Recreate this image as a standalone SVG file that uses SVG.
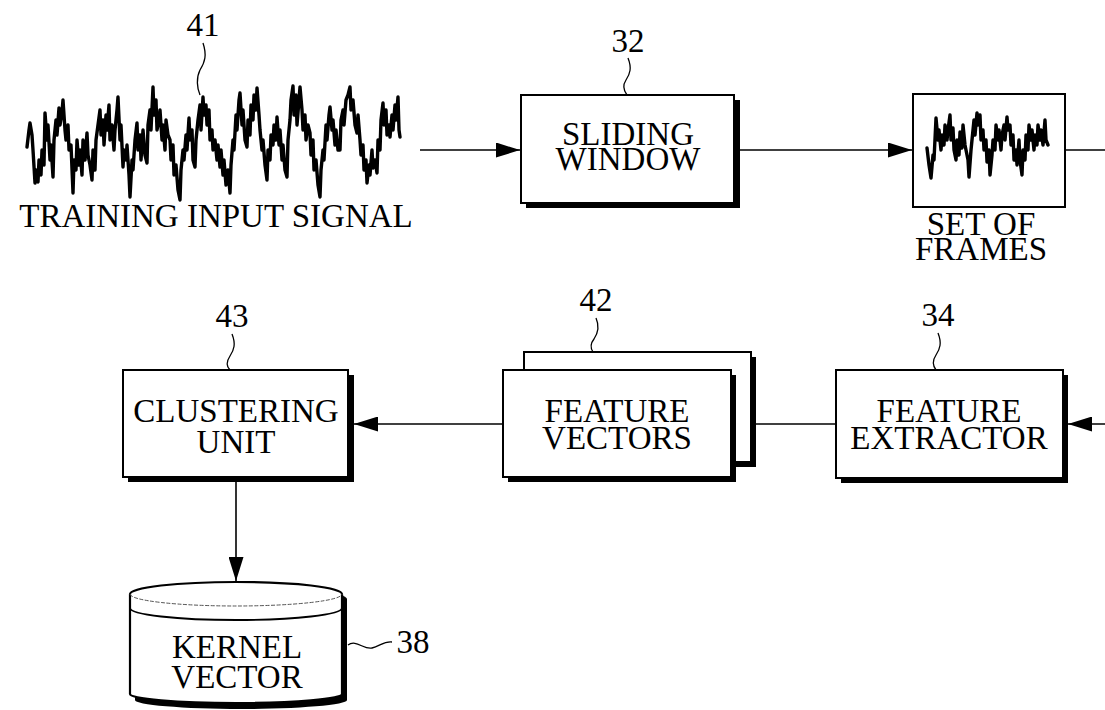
<svg xmlns="http://www.w3.org/2000/svg" width="1105" height="710" viewBox="0 0 1105 710">
  <style>
    text { font-family: "Liberation Serif", "Times New Roman", serif; font-size: 33px; fill: #000; text-anchor: middle; }
    .box { fill: #fff; stroke: #000; stroke-width: 2; }
    .shadow { fill: #000; }
    .wire { fill: none; stroke: #000; stroke-width: 1.6; }
    .lead { fill: none; stroke: #000; stroke-width: 1.3; }
    .sig { fill: none; stroke: #000; stroke-width: 3.4; stroke-linejoin: round; stroke-linecap: round; }
  </style>
  <defs>
    <marker id="arrow" markerUnits="userSpaceOnUse" markerWidth="24" markerHeight="15" refX="24" refY="7.5" orient="auto">
      <path d="M0,0 L24,7.5 L0,15 z" fill="#000"/>
    </marker>
  </defs>
  <rect width="1105" height="710" fill="#fff"/>

  <!-- connectors -->
  <g id="connectors">
    <line class="wire" x1="420" y1="150" x2="520" y2="150" marker-end="url(#arrow)"/>
    <line class="wire" x1="740" y1="150" x2="912" y2="150" marker-end="url(#arrow)"/>
    <line class="wire" x1="1065" y1="150" x2="1105" y2="150"/>
    <line class="wire" x1="1105" y1="424" x2="1068" y2="424" marker-end="url(#arrow)"/>
    <line class="wire" x1="836" y1="424" x2="756" y2="424"/>
    <line class="wire" x1="503" y1="424" x2="354" y2="424" marker-end="url(#arrow)"/>
    <line class="wire" x1="236" y1="482" x2="236" y2="581" marker-end="url(#arrow)"/>
  </g>

  <!-- training input signal -->
  <g id="training-signal">
    <polyline class="sig" points="27,147 29,130 30,123 32,135 33,150 35,183 36,170 38,182 39,160 41,175 42,150 44,165 45,113 47,140 48,125 50,160 51,145 53,177 54,140 56,120 57,135 59,108 60,125 62,112 63,100 65,130 66,140 68,125 69,150 71,145 73,193 74,160 76,170 77,140 79,165 80,150 82,175 83,140 85,160 87,133 88,155 90,165 92,180 93,150 95,170 96,140 98,125 100,110 101,135 103,120 104,145 106,115 107,130 109,105 110,140 112,125 114,150 115,130 117,110 118,97 120,140 121,125 123,167 124,150 126,160 127,145 129,175 130,197 132,160 133,170 135,140 137,123 138,150 140,135 141,160 143,130 145,155 147,163 148,125 150,110 151,130 153,87 154,115 156,100 157,130 159,120 160,110 162,140 163,125 165,150 166,120 168,135 170,140 171,160 173,145 174,175 176,165 178,190 180,200 181,170 183,150 184,160 186,135 187,150 189,118 190,140 192,130 193,160 195,167 196,140 198,120 200,105 201,130 203,97 204,115 206,105 207,125 209,110 210,140 212,130 213,150 215,140 217,160 218,145 220,167 221,150 223,175 224,160 226,185 228,170 230,193 231,165 233,140 234,150 236,115 237,130 239,100 240,93 242,125 243,110 245,140 247,147 248,120 250,135 251,105 253,120 254,95 256,110 257,88 259,115 260,130 262,150 263,140 265,165 267,180 268,150 270,160 271,135 273,145 274,125 276,140 277,117 279,145 280,130 282,160 283,145 285,170 287,177 288,140 290,120 291,100 293,86 294,115 296,95 297,125 299,100 300,87 302,110 303,130 305,115 306,140 308,125 310,133 311,155 313,140 314,170 316,160 318,185 320,197 321,170 323,150 324,160 326,125 327,140 329,115 330,107 332,130 333,120 335,145 336,130 338,150 340,150 341,120 343,110 344,125 346,100 348,95 350,87 351,110 353,100 355,125 357,133 358,115 360,140 361,155 363,145 364,170 366,160 367,183 369,165 370,175 372,150 373,168 375,160 377,173 378,140 380,150 381,120 383,103 384,125 386,110 387,135 389,125 390,137 392,115 393,130 395,105 396,120 398,97 399,130 400,137"/>
    <text x="216" y="227">TRAINING INPUT SIGNAL</text>
    <text x="203" y="36">41</text>
    <path class="lead" d="M203,43 C207,55 205,62 200,70 C196,78 197,88 200,95"/>
  </g>

  <!-- sliding window -->
  <g id="sliding-window">
    <rect class="shadow" x="526" y="100" width="214" height="108"/>
    <rect class="box" x="521" y="95" width="213" height="108"/>
    <text x="628" y="145">SLIDING<tspan x="628" dy="25">WINDOW</tspan></text>
    <text x="628" y="52">32</text>
    <path class="lead" d="M628,58 C632,68 630,74 626,80 C622,86 624,91 627,95"/>
  </g>

  <!-- set of frames -->
  <g id="set-of-frames">
    <rect class="box" x="913" y="94" width="152" height="113" stroke-width="2.4"/>
    <polyline class="sig" stroke-width="3.2" points="927,148 929,165 931,178 933,155 934,160 936,118 938,140 939,130 941,150 942,135 944,145 945,125 947,140 948,130 950,115 951,140 953,128 954,150 956,160 957,140 959,155 960,132 962,148 963,125 965,145 966,150 968,160 969,177 971,150 972,140 974,120 975,135 977,113 978,125 980,115 981,140 983,130 984,150 986,140 987,162 989,150 990,175 992,155 993,140 995,150 996,125 998,140 999,130 1001,150 1002,135 1004,125 1005,140 1007,117 1008,130 1010,125 1011,145 1013,135 1014,160 1016,150 1017,165 1019,140 1020,160 1022,175 1023,150 1025,160 1026,135 1028,150 1029,125 1031,140 1032,130 1034,150 1035,135 1037,145 1038,125 1040,140 1041,130 1043,145 1045,120 1046,140 1048,145"/>
    <text x="981" y="235">SET OF<tspan x="981" dy="25">FRAMES</tspan></text>
  </g>

  <!-- feature extractor -->
  <g id="feature-extractor">
    <rect class="shadow" x="841" y="375" width="227" height="108"/>
    <rect class="box" x="836" y="370" width="227" height="108"/>
    <text x="949" y="422">FEATURE<tspan x="949" dy="27">EXTRACTOR</tspan></text>
    <text x="938" y="326">34</text>
    <path class="lead" d="M938,333 C942,343 940,349 936,355 C932,361 933,366 936,370"/>
  </g>

  <!-- feature vectors (stacked) -->
  <g id="feature-vectors">
    <rect class="shadow" x="529" y="357" width="227" height="110"/>
    <rect class="box" x="524" y="352" width="227" height="110"/>
    <rect class="shadow" x="508" y="375" width="228" height="107"/>
    <rect class="box" x="503" y="370" width="228" height="107"/>
    <text x="617" y="422">FEATURE<tspan x="617" dy="27">VECTORS</tspan></text>
    <text x="596" y="311">42</text>
    <path class="lead" d="M596,318 C600,327 598,333 594,339 C590,344 591,349 593,352"/>
  </g>

  <!-- clustering unit -->
  <g id="clustering-unit">
    <rect class="shadow" x="128" y="375" width="226" height="107"/>
    <rect class="box" x="123" y="370" width="225" height="107"/>
    <text x="236" y="422">CLUSTERING<tspan x="236" dy="31">UNIT</tspan></text>
    <text x="232" y="327">43</text>
    <path class="lead" d="M232,334 C236,344 234,350 230,356 C226,362 227,367 230,370"/>
  </g>

  <!-- kernel vector store -->
  <g id="kernel-vector">
    <path class="shadow" d="M135,599 L135,700 A106,9 0 0 0 347,700 L347,599 A106,12 0 0 0 135,599 z"/>
    <path d="M130,594 L130,694 A106,9 0 0 0 342,694 L342,594 A106,12 0 0 0 130,594 z" fill="#fff" stroke="#000" stroke-width="2.2"/>
    <path d="M130,594 A106,12 0 0 0 342,594" fill="none" stroke="#555" stroke-width="1" stroke-dasharray="4,1.5"/>
    <path d="M130,608 A106,12 0 0 0 342,608" fill="none" stroke="#000" stroke-width="1.8"/>
    <text x="237" y="658">KERNEL<tspan x="237" dy="30">VECTOR</tspan></text>
    <text x="413" y="653">38</text>
    <path class="lead" d="M348,645 C356,639 364,650 372,648 C380,646 384,641 392,642"/>
  </g>
</svg>
